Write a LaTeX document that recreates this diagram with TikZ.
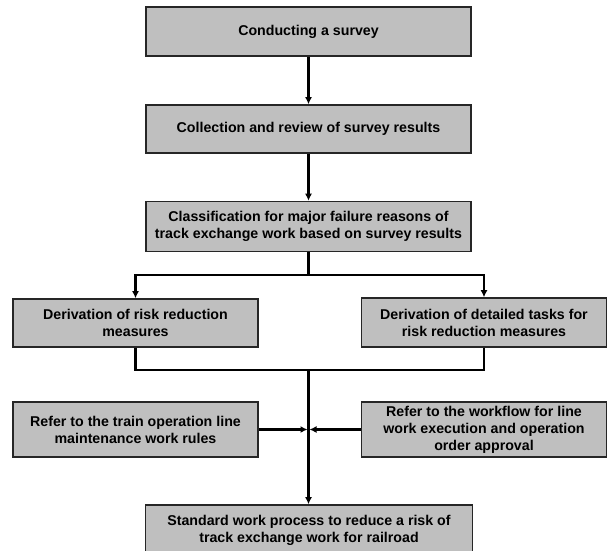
\documentclass[tikz,border=0pt]{standalone}
\usepackage{fontspec}
\setmainfont{Liberation Sans}
\usetikzlibrary{arrows.meta, positioning}

\tikzset{
    procbox/.style={draw=black!85, line width=1.6pt, fill=black!25, align=center,
        font=\bfseries\fontsize{14.2}{17}\selectfont, inner sep=0pt},
    flowline/.style={line width=2.1pt}
}

\begin{document}
\begin{tikzpicture}[x=1pt, y=-1pt, >={Latex[length=7pt,width=7pt]}]
            \useasboundingbox (0,0) rectangle (608,550);
            \fill[white] (0,0) rectangle (608,550);

            % boxes
            \node[procbox, minimum width=325pt, minimum height=49pt] (survey) at (308.5,31.5) {Conducting a survey};
            \node[procbox, minimum width=325pt, minimum height=48pt] (review) at (308.5,129) {Collection and review of survey results};
            \node[procbox, minimum width=325pt, minimum height=50pt] (classify) at (308.5,226.5) {Classification for major failure reasons of\\track exchange work based on survey results};
            \node[procbox, minimum width=245pt, minimum height=48pt] (riskmeas) at (135.5,323) {Derivation of risk reduction\\measures};
            \node[procbox, minimum width=245pt, minimum height=49pt] (tasks) at (484,322.5) {Derivation of detailed tasks for\\risk reduction measures};
            \node[procbox, minimum width=245pt, minimum height=55pt] (rules) at (135.5,429.5) {Refer to the train operation line\\maintenance work rules};
            \node[procbox, minimum width=245pt, minimum height=55pt] (workflow) at (484,429.5) {Refer to the workflow for line\\work execution and operation\\order approval};
            \node[procbox, minimum width=327pt, minimum height=50pt] (standard) at (309,530) {Standard work process to reduce a risk of\\track exchange work for railroad};

            \coordinate (split) at (308.5,275);
            \coordinate (merge) at (308.5,370);

            % connectors
            \draw[flowline, ->] (survey) -- (review);
            \draw[flowline, ->] (review) -- (classify);
            \draw[flowline] (classify.south) -- (split);
            \draw[flowline, ->] (split) -| (riskmeas.north);
            \draw[flowline, ->] (split) -| (tasks.north);
            \draw[flowline] (riskmeas.south) |- (merge);
            \draw[flowline] (tasks.south) |- (merge);
            \draw[flowline, ->] (merge) -- (merge |- standard.north);
            \draw[flowline, ->, shorten >=1pt] (rules.east) -- (merge |- rules.east);
            \draw[flowline, ->, shorten >=1pt] (workflow.west) -- (merge |- workflow.west);

        \end{tikzpicture}
\end{document}
